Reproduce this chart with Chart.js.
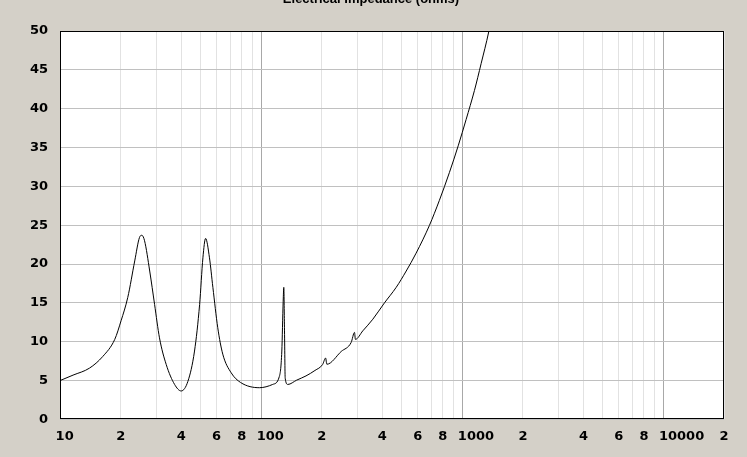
<!DOCTYPE html>
<html>
<head>
<meta charset="utf-8">
<script src="https://cdn.jsdelivr.net/npm/chart.js@4"></script>
<style>
html,body{margin:0;padding:0;background:#d4d0c8;}
canvas{display:block;}
</style>
</head>
<body>
<canvas id="c" width="747" height="457"></canvas>
<script>
// Frequency (Hz) and impedance (ohms)
const freqs = [10, 11.6, 14.0, 16.3, 18.7, 20.1, 21.7, 23.5, 24.8, 25.5, 26.3, 27.9, 29.5, 31.2, 33.7, 37.1, 40.0, 43.2, 46.6, 49.4, 51.3, 52.9, 55.3, 57.5, 60.8, 64.4, 70.9, 79, 98, 114, 123, 126.6, 128.6, 129.5, 130.5, 131.6, 135.6, 150, 167, 185, 202, 209, 212, 250, 280, 291, 294, 320, 359, 410, 469, 526, 589, 686, 769, 863, 956, 1044, 1149, 1240, 1353, 1450];
const impedance = [5.0, 5.7, 6.6, 8.1, 10.3, 12.7, 15.7, 20.4, 23.4, 23.7, 23.0, 19.1, 14.8, 10.5, 7.07, 4.5, 3.66, 4.9, 8.8, 14.8, 20.8, 23.3, 20.8, 17.0, 11.8, 8.4, 6.0, 4.75, 4.08, 4.5, 5.5, 8.8, 15.2, 17.0, 11.8, 5.3, 4.5, 5.05, 5.6, 6.3, 7.07, 7.9, 7.1, 8.75, 9.9, 11.2, 10.3, 11.4, 12.9, 15.0, 17.0, 19.1, 21.4, 24.97, 28.2, 31.8, 35.3, 38.6, 42.35, 45.8, 49.9, 54];

const xTickValues = [10,20,30,40,50,60,70,80,90,100,200,300,400,500,600,700,800,900,1000,2000,3000,4000,5000,6000,7000,8000,9000,10000,20000];
const xTickLabels = ['10','2','','4','','6','','8','','100','2','','4','','6','','8','','1000','2','','4','','6','','8','','10000','2'];
const yTickValues = [0,5,10,15,20,25,30,35,40,45,50];
const titleText = 'Electrical Impedance (ohms)';

const isDecade = v => Math.abs(Math.log10(v) - Math.round(Math.log10(v))) < 1e-9;

const bgPlugin = {
  id: 'bg',
  beforeDraw(chart) {
    const {ctx, chartArea: a} = chart;
    ctx.save();
    ctx.fillStyle = '#d4d0c8';
    ctx.fillRect(0, 0, chart.width, chart.height);
    ctx.fillStyle = '#ffffff';
    ctx.fillRect(a.left, a.top, a.right - a.left, a.bottom - a.top);
    ctx.restore();
  },
  afterDraw(chart) {
    const {ctx, chartArea: a} = chart;
    ctx.save();
    ctx.strokeStyle = '#000';
    ctx.lineWidth = 1;
    ctx.strokeRect(Math.round(a.left) + 0.5, Math.round(a.top) + 0.5,
      Math.round(a.right - a.left) - 1, Math.round(a.bottom - a.top) - 1);
    ctx.restore();
  }
};

new Chart(document.getElementById('c'), {
  type: 'line',
  data: {
    datasets: [{
      data: freqs.map((f, i) => ({x: f, y: impedance[i]})),
      borderColor: '#000000',
      borderWidth: 1,
      pointRadius: 0,
      cubicInterpolationMode: 'monotone',
      fill: false,
      clip: 0
    }]
  },
  options: {
    responsive: false,
    animation: false,
    events: [],
    layout: {padding: {top: -8, left: 18, right: 23, bottom: 4}},
    plugins: {
      legend: {display: false},
      tooltip: {enabled: false},
      title: {
        display: true,
        text: titleText,
        color: '#000',
        font: {family: 'Liberation Sans', size: 13, weight: 'bold'},
        padding: {top: 0, bottom: 23.4}
      }
    },
    scales: {
      x: {
        type: 'logarithmic',
        min: 10,
        max: 20000,
        afterBuildTicks(scale) {
          scale.ticks = xTickValues.map(v => ({value: v}));
        },
        border: {display: false},
        grid: {
          drawTicks: false,
          color: ctx => (ctx.tick && isDecade(ctx.tick.value)) ? '#a8a8a8' : '#e2e2e2',
          lineWidth: 1
        },
        ticks: {
          autoSkip: false,
          maxRotation: 0,
          minRotation: 0,
          align: 'start',
          labelOffset: -4.5,
          padding: 9,
          color: '#000',
          font: {family: 'DejaVu Sans', size: 13, weight: 'bold'},
          callback: (value, index) => xTickLabels[xTickValues.indexOf(value)] ?? ''
        }
      },
      y: {
        type: 'linear',
        min: 0,
        max: 50,
        afterBuildTicks(scale) {
          scale.ticks = yTickValues.map(v => ({value: v}));
        },
        border: {display: false},
        grid: {drawTicks: false, color: '#c0c0c0', lineWidth: 1},
        ticks: {
          padding: 12,
          color: '#000',
          font: {family: 'DejaVu Sans', size: 13, weight: 'bold'},
          callback: v => String(v)
        }
      }
    }
  },
  plugins: [bgPlugin]
});
</script>
</body>
</html>
